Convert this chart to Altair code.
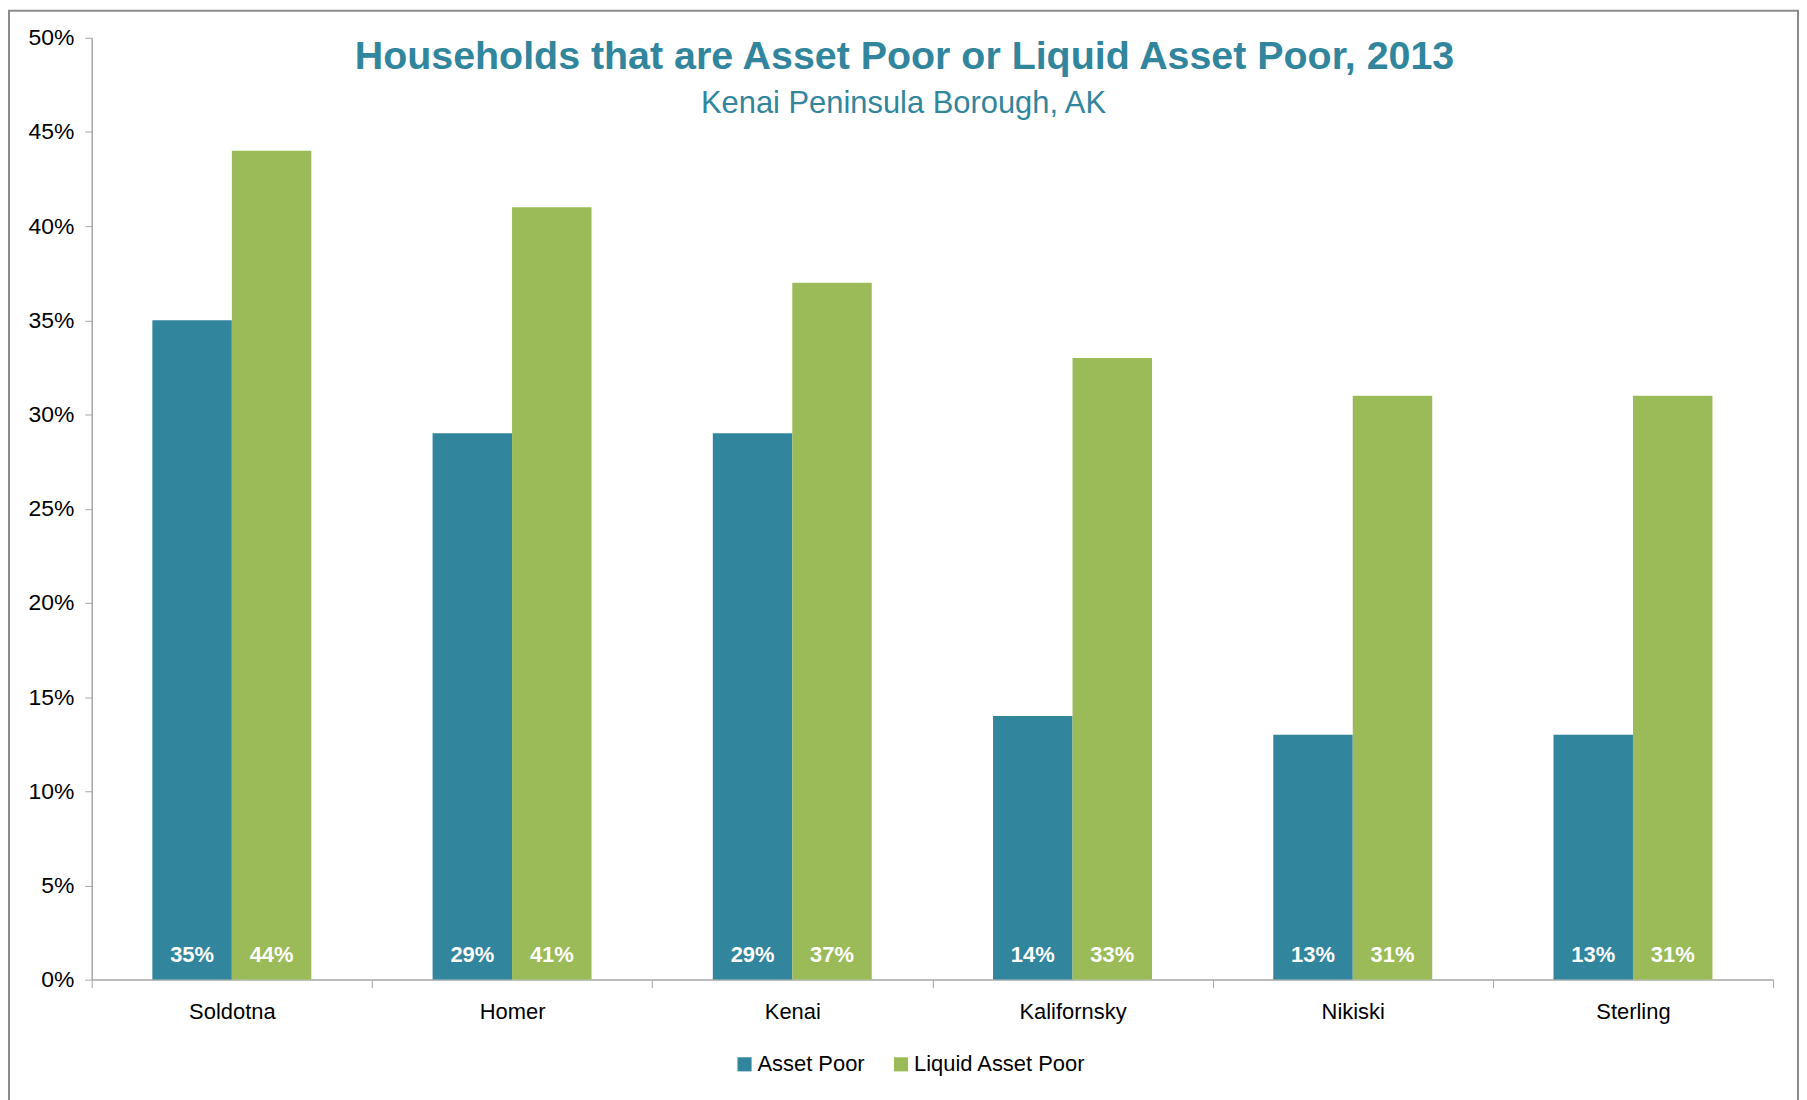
import altair as alt
import pandas as pd

cities = ["Soldotna", "Homer", "Kenai", "Kalifornsky", "Nikiski", "Sterling"]
series = ["Asset Poor", "Liquid Asset Poor"]
asset_poor = [0.35, 0.29, 0.29, 0.14, 0.13, 0.13]
liquid_asset_poor = [0.44, 0.41, 0.37, 0.33, 0.31, 0.31]
y_ticks = [0, 0.05, 0.10, 0.15, 0.20, 0.25, 0.30, 0.35, 0.40, 0.45, 0.50]
colors = ["#31859c", "#9bbb59"]

title_text = "Households that are Asset Poor or Liquid Asset Poor, 2013"
subtitle_text = "Kenai Peninsula Borough, AK"

rows = []
for c, a, l in zip(cities, asset_poor, liquid_asset_poor):
    rows.append({"city": c, "series": series[0], "value": a})
    rows.append({"city": c, "series": series[1], "value": l})
df = pd.DataFrame(rows)

W, H = 1687, 945
FONT = "Liberation Sans"

x_enc = alt.X(
    "city:N", sort=cities, title=None,
    scale=alt.Scale(paddingInner=0, paddingOuter=0),
    axis=alt.Axis(labelAngle=0, tickBand="extent", tickSize=8, labelPadding=14,
                  labelFontSize=22, labelFont=FONT, labelColor="#000000",
                  domainColor="#a6a6a6", tickColor="#a6a6a6", domainWidth=1.5),
)
xo_enc = alt.XOffset("series:N", sort=series,
                     scale=alt.Scale(paddingInner=0, paddingOuter=0.763))

base = alt.Chart(df)

bars = base.mark_bar().encode(
    x=x_enc,
    xOffset=xo_enc,
    y=alt.Y("value:Q", title=None,
            scale=alt.Scale(domain=[0, 0.5], nice=False),
            axis=alt.Axis(format=".0%", values=y_ticks, grid=False, tickSize=7,
                          labelPadding=11, labelFontSize=23, labelFont=FONT,
                          labelColor="#000000", domainColor="#a6a6a6",
                          tickColor="#a6a6a6", domainWidth=1.5)),
    color=alt.Color("series:N", sort=series,
                    scale=alt.Scale(domain=series, range=colors),
                    legend=alt.Legend(orient="none", legendX=644, legendY=1019,
                                      direction="horizontal", title=None,
                                      symbolType="square", symbolSize=200,
                                      symbolStrokeWidth=0, labelFontSize=22,
                                      labelFont=FONT, labelColor="#000000",
                                      labelLimit=0, labelOffset=2,
                                      columnPadding=25)),
)

labels = base.mark_text(
    color="white", fontWeight="bold", fontSize=22, font=FONT,
    baseline="alphabetic", align="center", dy=-18,
).encode(
    x=alt.X("city:N", sort=cities),
    xOffset=alt.XOffset("series:N", sort=series),
    y=alt.datum(0),
    text=alt.Text("value:Q", format=".0%"),
)

one = alt.Data(values=[{}])

frame = alt.Chart(one).mark_rect(filled=False, stroke="#8c8c8c", strokeWidth=2).encode(
    x=alt.value(-83), x2=alt.value(W + 25), y=alt.value(-27), y2=alt.value(H + 140)
)

title = alt.Chart(one).mark_text(
    text=title_text, font=FONT, fontSize=39.5, fontWeight="bold",
    color="#31859c", align="center", baseline="alphabetic",
).encode(x=alt.value(815.5), y=alt.value(31))

subtitle = alt.Chart(one).mark_text(
    text=subtitle_text, font=FONT, fontSize=31,
    color="#31859c", align="center", baseline="alphabetic",
).encode(x=alt.value(814.5), y=alt.value(75.5))

chart = alt.layer(frame, bars, labels, title, subtitle).properties(
    width=W, height=H, padding=0
).configure_view(strokeWidth=0)

chart.save("out.html", embed_options={"renderer": "svg", "actions": False})
